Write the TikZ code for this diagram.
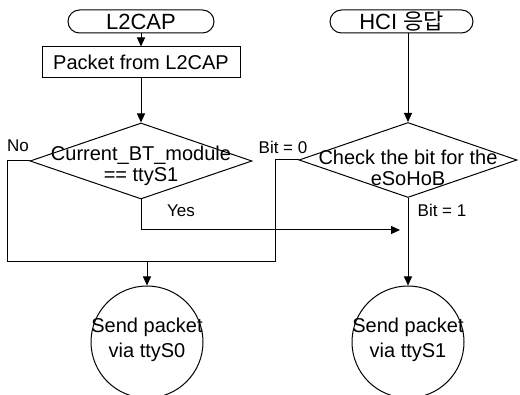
\documentclass[tikz,border=0pt]{standalone}
\usepackage{fontspec}
\setmainfont{Liberation Sans}
\newfontfamily\krfont{Noto Sans CJK KR}
\usepackage{tikz}
\usetikzlibrary{shapes,arrows.meta}
\tikzstyle{terminal}=[draw,rounded rectangle,minimum width=146pt,minimum height=23pt,inner sep=0pt,font=\fontsize{22}{24}\selectfont]
\tikzstyle{process}=[draw,rectangle,minimum width=198pt,minimum height=31pt,inner sep=0pt,font=\fontsize{20}{21}\selectfont]
\tikzstyle{decision}=[draw,diamond,inner sep=0pt]
\tikzstyle{sink}=[draw,circle,minimum size=112pt,inner sep=0pt]
\tikzstyle{bodytxt}=[font=\fontsize{20}{21}\selectfont,align=center,inner sep=0pt]
\tikzstyle{lbl}=[font=\fontsize{17}{19}\selectfont,inner sep=0pt]
\tikzstyle{flow}=[-{Triangle[length=9pt,width=8pt]}]

\begin{document}
\begin{tikzpicture}[x=1pt,y=-1pt,line width=1pt]
  \useasboundingbox (0,0) rectangle (520,395);
  % linke Spalte
  \node[terminal] (T1) at (141,21.5) {L2CAP};
  \node[process] (P1) at (141,62.5) {Packet from L2CAP};
  \node[decision,minimum width=222pt,minimum height=76pt,
        label={[bodytxt,yshift=-5pt]center:Current\_BT\_module\\== ttyS1}] (D1) at (141,161) {};
  \node[sink,label={[bodytxt,font=\fontsize{20}{25}\selectfont,yshift=2pt]center:Send packet\\via ttyS0}] (S0) at (147,342) {};

  % rechte Spalte
  \node[terminal,minimum width=143pt] (T2) at (401.5,21.5) {HCI {\krfont 응답}};
  \node[decision,minimum width=218pt,minimum height=75pt,
        label={[bodytxt,yshift=-8pt]center:Check the bit for the\\eSoHoB}] (D2) at (408,160) {};
  \node[sink,label={[bodytxt,font=\fontsize{20}{25}\selectfont,yshift=2pt]center:Send packet\\via ttyS1}] (S1) at (408,342) {};

  % Beschriftungen
  \node[lbl] (no) at (18,146) {No};
  \node[lbl] (yes) at (181,211) {Yes};
  \node[lbl] (b0) at (283,147) {Bit = 0};
  \node[lbl] (b1) at (442,210) {Bit = 1};

  \coordinate (lb) at (7,262);
  \coordinate (rb) at (275,262);
  \coordinate (ye) at (400,230);

  \draw[flow] (T1) -- (P1);
  \draw[flow] (P1) -- (D1);
  \draw[flow] (T2.south -| D2.north) -- (D2);
  \draw[flow] (D2) -- (S1);
  \draw (D1.west) -| (lb) -- (rb) |- (D2.west);
  \draw[flow] (S0.north |- lb) -- (S0);
  \draw[flow] (D1.south) |- (ye);
\end{tikzpicture}
\end{document}
